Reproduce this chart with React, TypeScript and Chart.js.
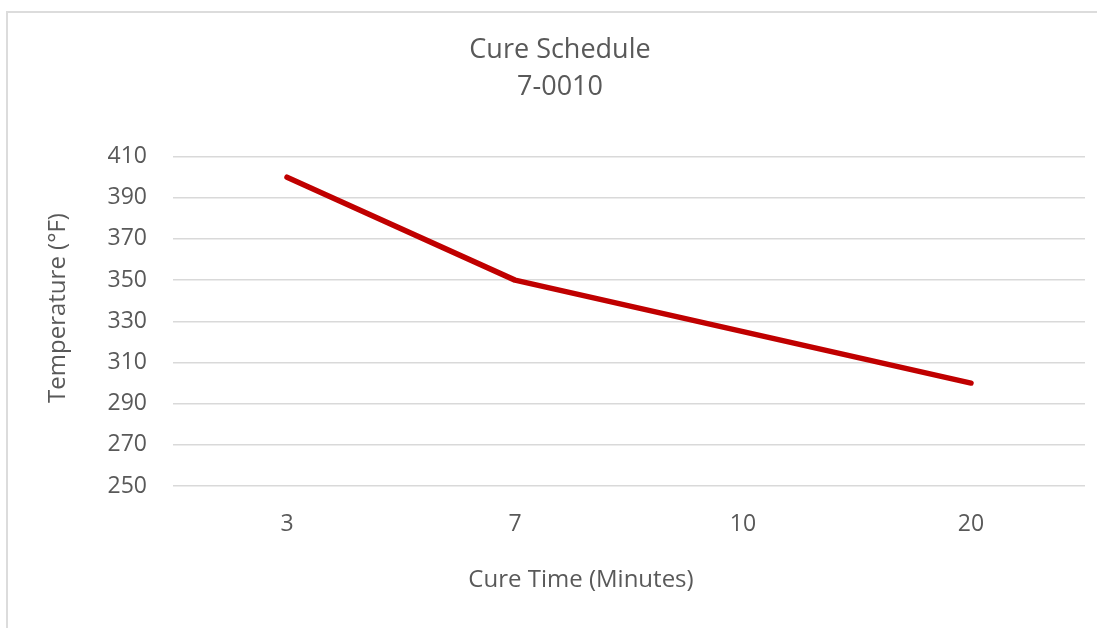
import React, { useEffect, useRef } from "react";
import { Chart, registerables } from "chart.js";

Chart.register(...registerables);

const cureTimes: string[] = ["3", "7", "10", "20"];
const temperatures: number[] = [400, 350, 325, 300];
const titleLines: string[] = ["Cure Schedule", "7-0010"];
const xAxisTitle = "Cure Time (Minutes)";
const yAxisTitle = "Temperature (°F)";

const TEXT = "#595959";
const GRID = "#d9d9d9";
const FONT = "'Open Sans', 'DejaVu Sans', sans-serif";

const axisTitlePlugin = {
  id: "axisTitles",
  afterDraw(chart: any) {
    const ctx = chart.ctx;
    ctx.save();
    ctx.fillStyle = TEXT;
    ctx.font = `24px ${FONT}`;
    ctx.textAlign = "center";
    ctx.textBaseline = "middle";
    ctx.fillText(xAxisTitle, 581, 580);
    ctx.translate(58, 308);
    ctx.rotate(-Math.PI / 2);
    ctx.fillText(yAxisTitle, 0, 0);
    ctx.restore();
  },
};

export default function App() {
  const canvasRef = useRef<HTMLCanvasElement | null>(null);

  useEffect(() => {
    if (!canvasRef.current) return;
    const chart = new Chart(canvasRef.current, {
      type: "line",
      data: {
        labels: cureTimes,
        datasets: [
          {
            label: "Temperature",
            data: temperatures,
            borderColor: "#C00000",
            backgroundColor: "#C00000",
            borderWidth: 5.5,
            borderCapStyle: "round",
            borderJoinStyle: "round",
            pointRadius: 0,
            tension: 0,
          },
        ],
      },
      options: {
        responsive: false,
        animation: false,
        devicePixelRatio: 1,
        layout: { padding: { left: 35, right: 12, top: 0, bottom: 0 } },
        plugins: {
          legend: { display: false },
          tooltip: { enabled: false },
          title: {
            display: true,
            text: titleLines,
            color: TEXT,
            font: { family: FONT, size: 27, weight: "normal", lineHeight: 1.4 },
            padding: { top: 31, bottom: 50 },
          },
        },
        scales: {
          x: {
            type: "category",
            offset: true,
            grid: { display: false },
            border: { display: false },
            ticks: {
              color: TEXT,
              font: { family: FONT, size: 23 },
              padding: 17,
              maxRotation: 0,
            },
            afterFit(scale: any) {
              scale.height = 142;
            },
          },
          y: {
            min: 250,
            max: 410,
            grid: { color: GRID, lineWidth: 1.5, drawTicks: false },
            border: { display: false },
            ticks: {
              stepSize: 20,
              color: TEXT,
              font: { family: FONT, size: 23 },
              padding: 26,
            },
            afterFit(scale: any) {
              scale.width = 138;
            },
          },
        },
      },
      plugins: [axisTitlePlugin],
    });
    return () => chart.destroy();
  }, []);

  return (
    <div
      style={{
        position: "absolute",
        left: 0,
        top: 0,
        width: 1097,
        height: 628,
        overflow: "hidden",
        background: "#ffffff",
      }}
    >
      <div
        style={{
          position: "absolute",
          left: 6,
          top: 11,
          width: 2000,
          height: 2000,
          border: "2px solid #dcdcdc",
          boxSizing: "border-box",
        }}
      />
      <canvas
        ref={canvasRef}
        width={1097}
        height={628}
        style={{ position: "absolute", left: 0, top: 0, width: 1097, height: 628 }}
      />
    </div>
  );
}
